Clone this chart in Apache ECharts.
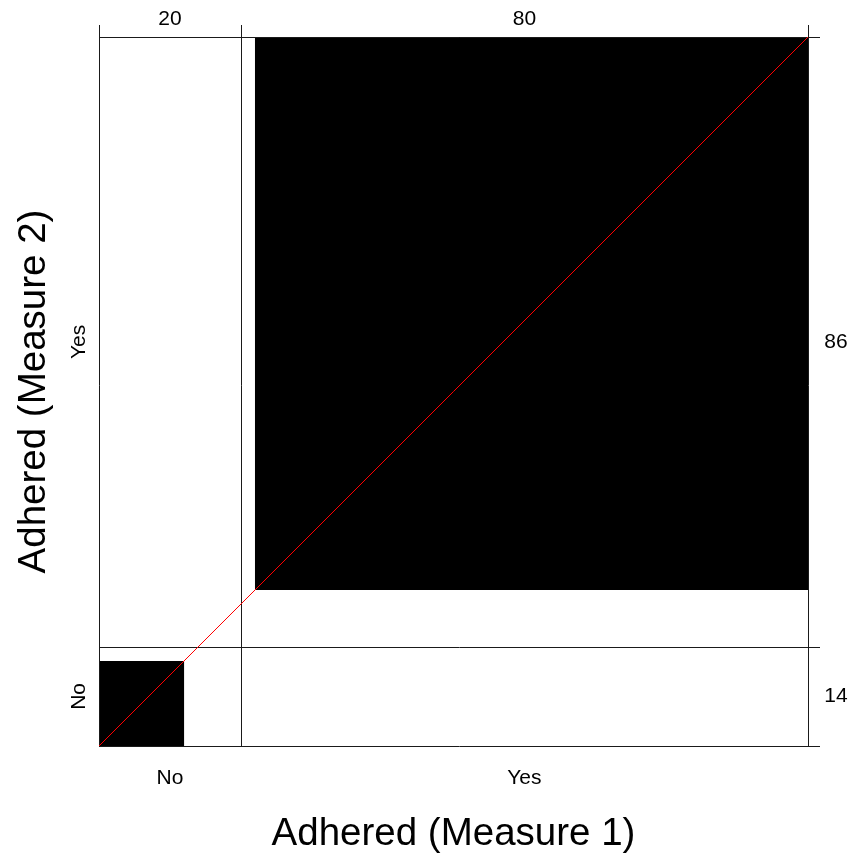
<!DOCTYPE html>
<html>
<head>
<meta charset="utf-8">
<script src="https://cdn.jsdelivr.net/npm/echarts@6/dist/echarts.min.js"></script>
<style>
  html, body { margin: 0; padding: 0; background: #ffffff; }
  #chart { width: 852px; height: 857px; }
</style>
</head>
<body>
<div id="chart"></div>
<script>
// Agreement plot: Adhered (Measure 1) vs Adhered (Measure 2)
const levels = ['No', 'Yes'];
// Rows are Measure 2 levels, columns are Measure 1 levels
const rowNo = [12, 2];
const rowYes = [8, 78];
const xTitle = 'Adhered (Measure 1)';
const yTitle = 'Adhered (Measure 2)';

const table = [rowNo, rowYes];
const colTotals = levels.map((_, j) => table.reduce((s, r) => s + r[j], 0));
const rowTotals = table.map(r => r.reduce((s, v) => s + v, 0));
const total = colTotals.reduce((a, b) => a + b, 0);
const colEdges = [0];
colTotals.forEach(v => colEdges.push(colEdges[colEdges.length - 1] + v));
const rowEdges = [0];
rowTotals.forEach(v => rowEdges.push(rowEdges[rowEdges.length - 1] + v));

// Full-agreement squares, shifted by the off-diagonal counts before them
const squares = levels.map((_, i) => {
  let xo = 0, yo = 0;
  for (let j = 0; j < i; j++) { xo += table[j][i]; yo += table[i][j]; }
  return [colEdges[i] + xo, rowEdges[i] + yo, table[i][i]];
});

const colLabelData = levels.map((name, i) => [(colEdges[i] + colEdges[i + 1]) / 2, colTotals[i], name]);
const rowLabelData = levels.map((name, i) => [(rowEdges[i] + rowEdges[i + 1]) / 2, rowTotals[i], name]);

const FONT = 'Liberation Sans, Arial, Helvetica, sans-serif';
const LINE = '#1a1a1a';
const TICK = 12;
const LABEL_SIZE = 21;
const TITLE_SIZE = 38.5;
const G = { left: 99, top: 37, width: 709, height: 709 };

const crisp = v => Math.round(v) + 0.5;

const chart = echarts.init(document.getElementById('chart'), null, { renderer: 'canvas' });

chart.setOption({
  animation: false,
  backgroundColor: '#ffffff',
  grid: { left: G.left, top: G.top, width: G.width, height: G.height },
  xAxis: { type: 'value', min: 0, max: total, show: false },
  yAxis: { type: 'value', min: 0, max: total, show: false },
  graphic: [
    {
      type: 'text', x: G.left + G.width / 2, y: 834,
      style: { text: xTitle, fontFamily: FONT, fontSize: TITLE_SIZE, fill: '#000', align: 'center', verticalAlign: 'middle' }
    },
    {
      type: 'text', x: 34, y: G.top + G.height / 2, rotation: Math.PI / 2,
      style: { text: yTitle, fontFamily: FONT, fontSize: TITLE_SIZE, fill: '#000', align: 'center', verticalAlign: 'middle' }
    }
  ],
  series: [
    {
      type: 'custom',
      name: 'agreement',
      data: squares,
      silent: true,
      z: 2,
      renderItem: (params, api) => {
        const x = api.value(0), y = api.value(1), n = api.value(2);
        const p0 = api.coord([x, y]);
        const p1 = api.coord([x + n, y + n]);
        return {
          type: 'rect',
          shape: { x: p0[0], y: p1[1], width: p1[0] - p0[0], height: p0[1] - p1[1] },
          style: { fill: '#000000' }
        };
      }
    },
    {
      type: 'custom',
      name: 'columns',
      data: colEdges.map(v => [v]),
      silent: true,
      z: 3,
      renderItem: (params, api) => {
        const top = api.coord([api.value(0), total]);
        const bottom = api.coord([api.value(0), 0]);
        const x = crisp(top[0]);
        return {
          type: 'line',
          shape: { x1: x, y1: Math.round(top[1]) - TICK, x2: x, y2: Math.round(bottom[1]) + 0.5 },
          style: { stroke: LINE, lineWidth: 1 }
        };
      }
    },
    {
      type: 'custom',
      name: 'rows',
      data: rowEdges.map(v => [v]),
      silent: true,
      z: 3,
      renderItem: (params, api) => {
        const left = api.coord([0, api.value(0)]);
        const right = api.coord([total, api.value(0)]);
        const y = crisp(left[1]);
        return {
          type: 'line',
          shape: { x1: Math.round(left[0]), y1: y, x2: Math.round(right[0]) + TICK, y2: y },
          style: { stroke: LINE, lineWidth: 1 }
        };
      }
    },
    {
      type: 'line',
      name: 'diagonal',
      data: [[0, 0], [total, total]],
      symbol: 'none',
      silent: true,
      z: 4,
      lineStyle: { color: '#ff0000', width: 1 }
    },
    {
      type: 'custom',
      name: 'colLabels',
      data: colLabelData,
      silent: true,
      renderItem: (params, api) => {
        const top = api.coord([api.value(0), total]);
        const bottom = api.coord([api.value(0), 0]);
        return {
          type: 'group',
          children: [
            { type: 'text', x: top[0], y: top[1] - 18,
              style: { text: String(api.value(1)), fontFamily: FONT, fontSize: LABEL_SIZE, fill: '#000', align: 'center', verticalAlign: 'middle' } },
            { type: 'text', x: bottom[0], y: bottom[1] + 32,
              style: { text: levels[params.dataIndex], fontFamily: FONT, fontSize: LABEL_SIZE, fill: '#000', align: 'center', verticalAlign: 'middle' } }
          ]
        };
      }
    },
    {
      type: 'custom',
      name: 'rowLabels',
      data: rowLabelData,
      silent: true,
      renderItem: (params, api) => {
        const left = api.coord([0, api.value(0)]);
        const right = api.coord([total, api.value(0)]);
        return {
          type: 'group',
          children: [
            { type: 'text', x: right[0] + 28, y: left[1],
              style: { text: String(api.value(1)), fontFamily: FONT, fontSize: LABEL_SIZE, fill: '#000', align: 'center', verticalAlign: 'middle' } },
            { type: 'text', x: left[0] - 20, y: left[1], rotation: Math.PI / 2,
              style: { text: levels[params.dataIndex], fontFamily: FONT, fontSize: LABEL_SIZE, fill: '#000', align: 'center', verticalAlign: 'middle' } }
          ]
        };
      }
    }
  ]
});
</script>
</body>
</html>
